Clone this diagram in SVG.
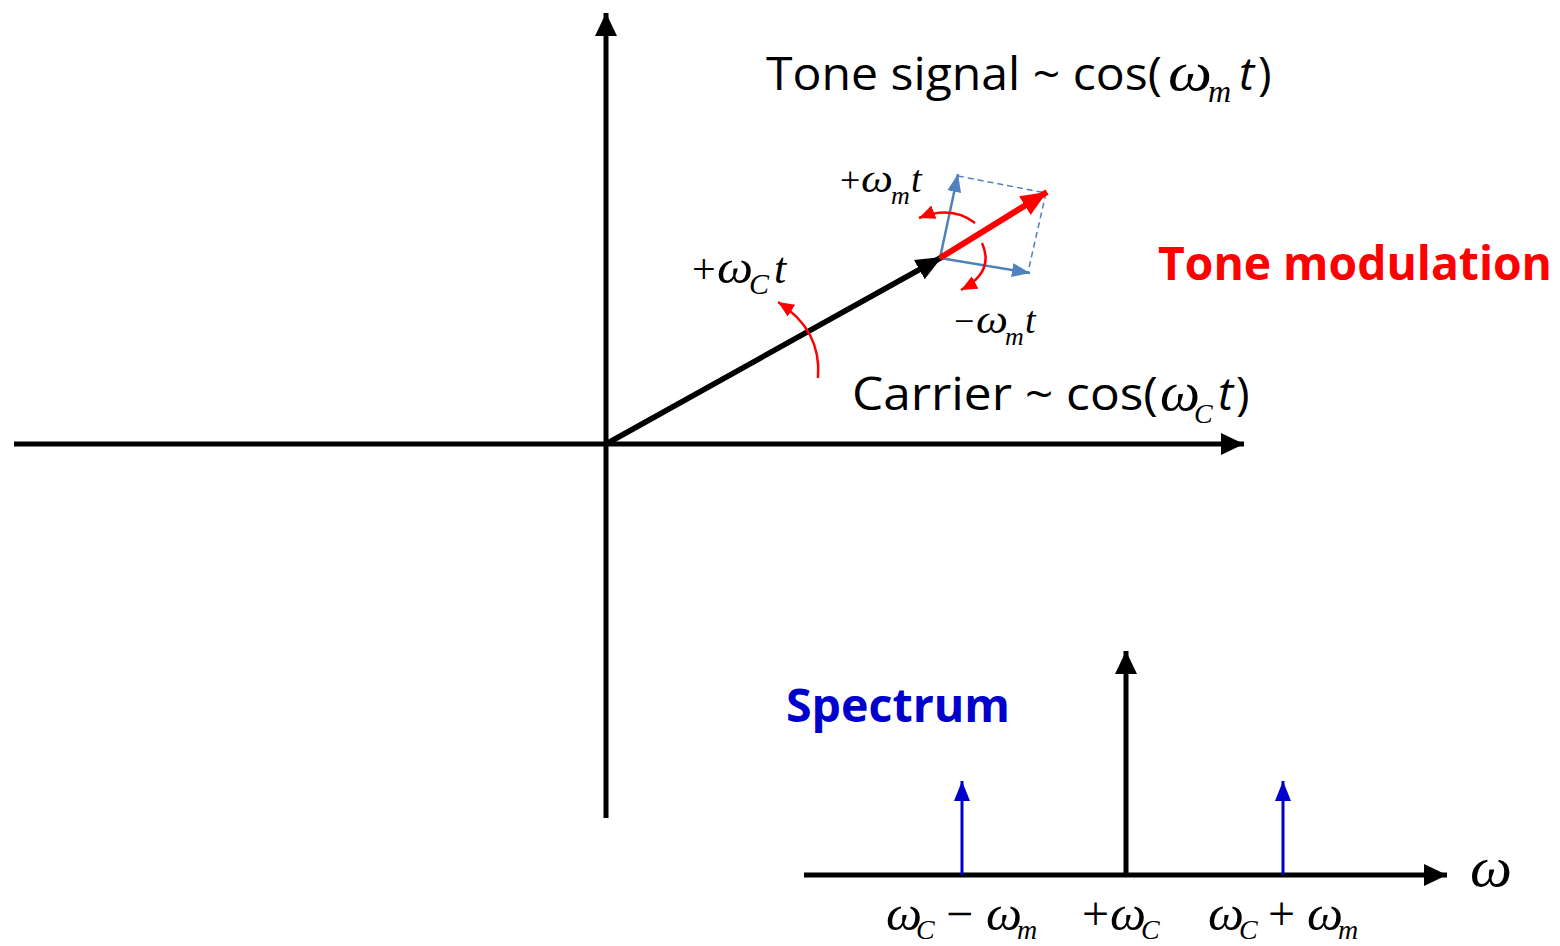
<svg xmlns="http://www.w3.org/2000/svg" width="1560" height="946" viewBox="0 0 1560 946">
<style>
.ax{stroke:#000;stroke-width:5;fill:none}
.sans{font-family:"Open Sans","Liberation Sans",sans-serif;fill:#000}
.math{font-family:"Liberation Serif",serif;font-style:italic;fill:#000}
.rm{font-family:"Liberation Serif",serif;fill:#000}
.blue{stroke:#4f81bd;stroke-width:2.5;fill:none}
.dash{stroke:#4f81bd;stroke-width:1.5;stroke-dasharray:6,4;fill:none}
.rarc{stroke:#ff0000;stroke-width:2.5;fill:none}
</style>
<defs>
<marker id="ka" markerUnits="userSpaceOnUse" markerWidth="26" markerHeight="26" viewBox="0 0 26 26" refX="23" refY="13" orient="auto"><path d="M0,2 L23,13 L0,24 Z" fill="#000"/></marker>
<marker id="ks" markerUnits="userSpaceOnUse" markerWidth="28" markerHeight="28" viewBox="0 0 28 28" refX="26" refY="14" orient="auto"><path d="M0,3 L26,14 L0,25 Z" fill="#000"/></marker>
<marker id="ra" markerUnits="userSpaceOnUse" markerWidth="28" markerHeight="28" viewBox="0 0 28 28" refX="26" refY="14" orient="auto"><path d="M0,3 L26,14 L0,25 Z" fill="#ff0000"/></marker>
<marker id="ba" markerUnits="userSpaceOnUse" markerWidth="20" markerHeight="20" viewBox="0 0 20 20" refX="18" refY="10" orient="auto"><path d="M0,3 L18,10 L0,17 Z" fill="#4f81bd"/></marker>
<marker id="da" markerUnits="userSpaceOnUse" markerWidth="22" markerHeight="22" viewBox="0 0 22 22" refX="20" refY="11" orient="auto"><path d="M0,3 L20,11 L0,19 Z" fill="#0000cc"/></marker>
<marker id="sa" markerUnits="userSpaceOnUse" markerWidth="18" markerHeight="18" viewBox="0 0 18 18" refX="16" refY="9" orient="auto"><path d="M0,2 L16,9 L0,16 Z" fill="#ff0000"/></marker>
</defs>

<g id="connectors">
<line id="x-axis" class="ax" x1="14" y1="444" x2="1244" y2="444" marker-end="url(#ka)"/>
<line id="y-axis" class="ax" x1="606" y1="818" x2="606" y2="13" marker-end="url(#ka)"/>
<line id="carrier-vector" stroke="#000" stroke-width="5.5" x1="606" y1="444" x2="942" y2="257" marker-end="url(#ks)"/>
<line id="blue-up" class="blue" x1="940" y1="258" x2="958" y2="174" marker-end="url(#ba)"/>
<line id="blue-right" class="blue" x1="940" y1="258" x2="1030" y2="273" marker-end="url(#ba)"/>
<line class="dash" x1="958" y1="176" x2="1046" y2="193"/>
<line class="dash" x1="1046" y1="193" x2="1028" y2="272"/>
<line id="red-vector" stroke="#ff0000" stroke-width="6" x1="940" y1="258" x2="1047" y2="192" marker-end="url(#ra)"/>
<path class="rarc" d="M975,223 Q952,205 919,218" marker-end="url(#sa)"/>
<path class="rarc" d="M982,243 Q995,272 961,290" marker-end="url(#sa)"/>
<path class="rarc" d="M818,378 Q822,330 778,302" marker-end="url(#sa)"/>
<line id="spec-axis" class="ax" x1="804" y1="875" x2="1447" y2="875" marker-end="url(#ka)"/>
<line id="spec-center" class="ax" x1="1126" y1="877" x2="1126" y2="651" marker-end="url(#ka)"/>
<line id="spec-low" stroke="#0000cc" stroke-width="3" x1="962" y1="875" x2="962" y2="781" marker-end="url(#da)"/>
<line id="spec-high" stroke="#0000cc" stroke-width="3" x1="1283" y1="875" x2="1283" y2="781" marker-end="url(#da)"/>
</g>

<g id="tone-signal-label">
<text class="sans" x="766" y="90" font-size="46" textLength="396" lengthAdjust="spacingAndGlyphs">Tone signal ~ cos(</text>
<text class="math" x="1168" y="90" font-size="54" textLength="44" lengthAdjust="spacingAndGlyphs">ω</text>
<text class="math" x="1208" y="102" font-size="32">m</text>
<text class="sans" x="1239" y="90" font-size="46" font-style="italic">t</text>
<text class="sans" x="1258" y="90" font-size="46">)</text>
</g>

<g id="carrier-label">
<text class="sans" x="852" y="410" font-size="46" textLength="306" lengthAdjust="spacingAndGlyphs">Carrier ~ cos(</text>
<text class="math" x="1160" y="410" font-size="54" textLength="40" lengthAdjust="spacingAndGlyphs">ω</text>
<text class="math" x="1194" y="423" font-size="28">C</text>
<text class="sans" x="1218" y="410" font-size="46" font-style="italic">t</text>
<text class="sans" x="1236" y="410" font-size="46">)</text>
</g>

<g id="tone-modulation-label">
<text x="1158" y="280" font-family="Open Sans, Liberation Sans, sans-serif" font-weight="bold" font-size="46" fill="#ff0000" textLength="394" lengthAdjust="spacingAndGlyphs">Tone modulation</text>
</g>

<g id="spectrum-label">
<text x="786" y="722" font-family="Open Sans, Liberation Sans, sans-serif" font-weight="bold" font-size="46" fill="#0000cc" textLength="224" lengthAdjust="spacingAndGlyphs">Spectrum</text>
</g>

<g id="wc-label">
<text class="rm" x="692" y="283" font-size="42">+</text>
<text class="math" x="717" y="283" font-size="46" textLength="36" lengthAdjust="spacingAndGlyphs">ω</text>
<text class="math" x="749" y="294" font-size="30">C</text>
<text class="math" x="774" y="283" font-size="44">t</text>
</g>

<g id="wm-plus-label">
<text class="rm" x="840" y="192" font-size="36">+</text>
<text class="math" x="861" y="192" font-size="40" textLength="32" lengthAdjust="spacingAndGlyphs">ω</text>
<text class="math" x="891" y="204" font-size="26">m</text>
<text class="math" x="911" y="192" font-size="38">t</text>
</g>

<g id="wm-minus-label">
<text class="rm" x="954" y="333" font-size="36">−</text>
<text class="math" x="976" y="333" font-size="40" textLength="32" lengthAdjust="spacingAndGlyphs">ω</text>
<text class="math" x="1005" y="345" font-size="26">m</text>
<text class="math" x="1025" y="333" font-size="38">t</text>
</g>

<g id="omega-axis-label">
<text class="math" x="1470" y="886" font-size="56" textLength="42" lengthAdjust="spacingAndGlyphs">ω</text>
</g>

<g id="freq-labels">
<text class="math" x="886" y="930" font-size="48" textLength="36" lengthAdjust="spacingAndGlyphs">ω</text>
<text class="math" x="916" y="939" font-size="28">C</text>
<text class="rm" x="946" y="930" font-size="48">−</text>
<text class="math" x="986" y="930" font-size="48" textLength="36" lengthAdjust="spacingAndGlyphs">ω</text>
<text class="math" x="1017" y="939" font-size="28">m</text>
<text class="rm" x="1082" y="930" font-size="48">+</text>
<text class="math" x="1110" y="930" font-size="48" textLength="36" lengthAdjust="spacingAndGlyphs">ω</text>
<text class="math" x="1141" y="939" font-size="28">C</text>
<text class="math" x="1208" y="930" font-size="48" textLength="36" lengthAdjust="spacingAndGlyphs">ω</text>
<text class="math" x="1239" y="939" font-size="28">C</text>
<text class="rm" x="1268" y="930" font-size="48">+</text>
<text class="math" x="1307" y="930" font-size="48" textLength="36" lengthAdjust="spacingAndGlyphs">ω</text>
<text class="math" x="1338" y="939" font-size="28">m</text>
</g>
</svg>
